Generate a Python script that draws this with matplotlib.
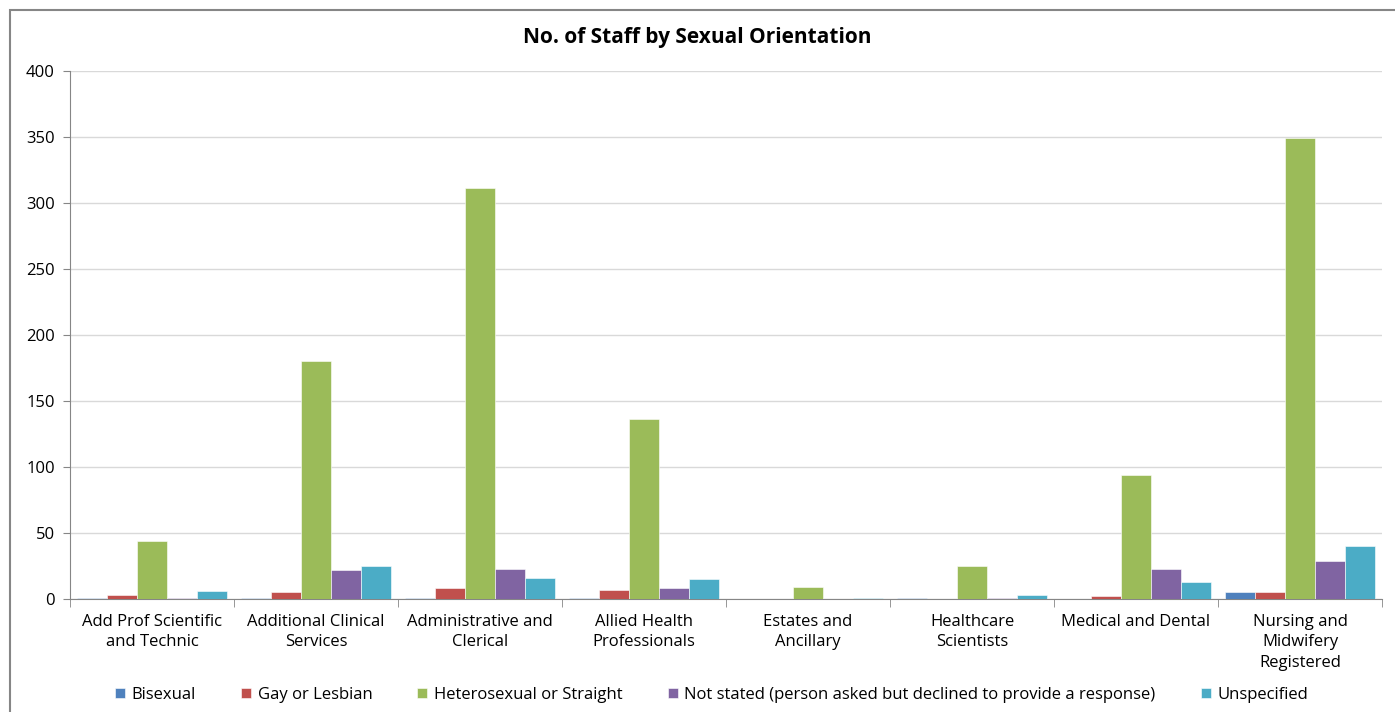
import numpy as np
import matplotlib.pyplot as plt
from matplotlib.patches import Rectangle
from matplotlib.ticker import FixedLocator

plt.rcParams['font.family'] = ['Open Sans', 'DejaVu Sans']

categories = ["Add Prof Scientific\nand Technic", "Additional Clinical\nServices",
              "Administrative and\nClerical", "Allied Health\nProfessionals",
              "Estates and\nAncillary", "Healthcare\nScientists",
              "Medical and Dental", "Nursing and\nMidwifery\nRegistered"]
series_names = ["Bisexual", "Gay or Lesbian", "Heterosexual or Straight",
                "Not stated (person asked but declined to provide a response)", "Unspecified"]
bisexual = [1, 1, 1, 1, 0, 1, 0, 5]
gay_lesbian = [3, 5, 8, 7, 0, 0, 2, 5]
heterosexual = [44, 180, 311, 136, 9, 25, 94, 349]
not_stated = [1, 22, 23, 8, 0, 1, 23, 29]
unspecified = [6, 25, 16, 15, 1, 3, 13, 40]
colors = ["#4F81BD", "#C0504D", "#9BBB59", "#8064A2", "#4BACC6"]

data = [bisexual, gay_lesbian, heterosexual, not_stated, unspecified]

fig = plt.figure(figsize=(13.95, 7.12), dpi=100)
ax = fig.add_axes([70/1395, 1-599/712, (1382-70)/1395, (599-71)/712])

# outer chart frame
fig.patches.append(Rectangle((10/1395, -0.05), 1.1, 1-10/712+0.05, transform=fig.transFigure,
                             fill=False, edgecolor="#868686", linewidth=1.5))

x = np.arange(len(categories))
w = 0.183
for i, (vals, name) in enumerate(zip(data, series_names)):
    ax.bar(x + (i - 2) * w, vals, w, color=colors[i], label=name, zorder=3,
           edgecolor="white", linewidth=0.4)

ax.set_xlim(-0.5, len(categories) - 0.5)
ax.set_ylim(0, 400)
ax.set_yticks(np.arange(0, 401, 50))
ax.grid(axis="y", color="#D9D9D9", linewidth=1, zorder=0)
ax.set_xticks(x)
ax.set_xticklabels(categories, fontsize=12, linespacing=1.35)
ax.tick_params(axis="x", length=0, pad=11)
ax.xaxis.set_minor_locator(FixedLocator(np.arange(-0.5, len(categories), 1)))
ax.tick_params(axis="x", which="minor", length=6, color="#868686")
ax.tick_params(axis="y", length=5, color="#868686", labelsize=12, pad=6)
for s in ["top", "right"]:
    ax.spines[s].set_visible(False)
for s in ["left", "bottom"]:
    ax.spines[s].set_color("#868686")

fig.text(0.5, 1-37/712, "No. of Staff by Sexual Orientation", ha="center", va="center",
         fontsize=15, fontweight="bold")

handles, labels = ax.get_legend_handles_labels()
fig.legend(handles, labels, loc="center", bbox_to_anchor=(0.51, 1-695/712), ncol=5,
           frameon=False, fontsize=12, handlelength=0.6, handleheight=0.6,
           handletextpad=0.4, columnspacing=2.7)

fig.savefig("out.png", dpi=100)
